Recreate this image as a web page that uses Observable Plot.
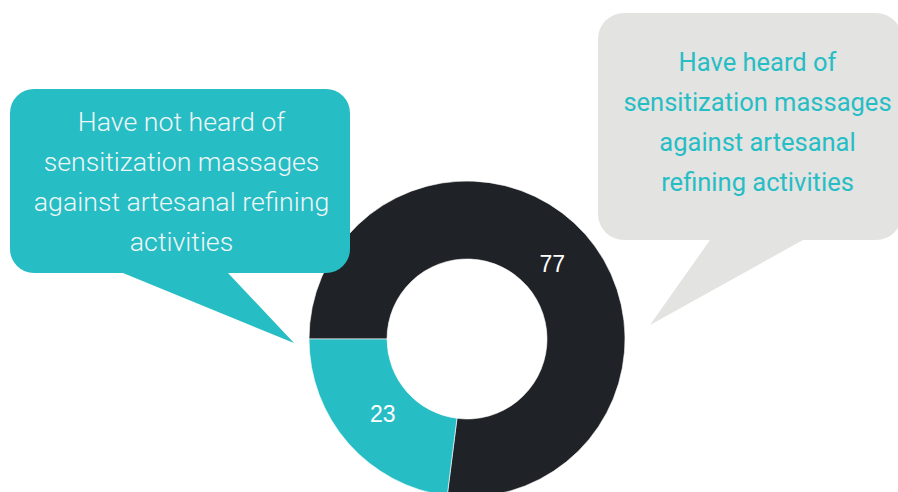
<!DOCTYPE html>
<html>
<head>
<meta charset="utf-8">
<script src="https://cdn.jsdelivr.net/npm/d3@7"></script>
<script src="https://cdn.jsdelivr.net/npm/@observablehq/plot@0.6"></script>
<style>
  html, body { margin: 0; padding: 0; background: #ffffff; }
  #chart { width: 898px; height: 492px; overflow: hidden; }
</style>
</head>
<body>
<div id="chart"></div>
<script>
// ---- data ----
const categories = [
  "Have heard of sensitization massages against artesanal refining activities",
  "Have not heard of sensitization massages against artesanal refining activities"
];
const values = [77, 23];
const sliceColors = ["#1f2226", "#27bdc5"];
const bubbleTexts = [
  "Have heard of\nsensitization massages\nagainst artesanal\nrefining activities",
  "Have not heard of\nsensitization massages\nagainst artesanal refining\nactivities"
];

// ---- layout ----
const W = 898, H = 492;
const cx = 467, cy = 339, rOuter = 158, rInner = 80, rLabel = 113;

const pie = d3.pie().sort(null).value(d => d.value)
  .startAngle(-Math.PI / 2).endAngle(3 * Math.PI / 2);
const table = categories.map((c, i) => ({category: c, value: values[i], color: sliceColors[i]}));
const arcs = pie(table);
const arcGen = d3.arc().innerRadius(rInner).outerRadius(rOuter);
const labelArc = d3.arc().innerRadius(rLabel).outerRadius(rLabel);
const labels = arcs.map(a => {
  const [dx, dy] = labelArc.centroid(a);
  return {x: cx + dx, y: cy + dy, text: String(a.data.value)};
});

// speech bubbles (layout only)
const bubbles = [
  {x0: 598, y0: 13, x1: 902, y1: 240, r: 26, tail: [[710, 240], [650, 325], [803, 240]], fill: "#e3e3e1",
   tx: 757, ty: 118, text: bubbleTexts[0], color: "#27bdc5"},
  {x0: 10, y0: 89, x1: 350, y1: 273, r: 24, tail: [[123, 273], [294, 343], [228, 273]], fill: "#27bdc5",
   tx: 181, ty: 178, text: bubbleTexts[1], color: "#eef6f6"}
];

function bubblePath(b, x, y) {
  const p = d3.path();
  const r = b.r;
  p.moveTo(x(b.x0 + r), y(b.y0));
  p.lineTo(x(b.x1 - r), y(b.y0));
  p.arcTo(x(b.x1), y(b.y0), x(b.x1), y(b.y0 + r), r);
  p.lineTo(x(b.x1), y(b.y1 - r));
  p.arcTo(x(b.x1), y(b.y1), x(b.x1 - r), y(b.y1), r);
  p.lineTo(x(b.tail[2][0]), y(b.tail[2][1]));
  p.lineTo(x(b.tail[1][0]), y(b.tail[1][1]));
  p.lineTo(x(b.tail[0][0]), y(b.tail[0][1]));
  p.lineTo(x(b.x0 + r), y(b.y1));
  p.arcTo(x(b.x0), y(b.y1), x(b.x0), y(b.y1 - r), r);
  p.lineTo(x(b.x0), y(b.y0 + r));
  p.arcTo(x(b.x0), y(b.y0), x(b.x0 + r), y(b.y0), r);
  p.closePath();
  return p.toString();
}

const donutMark = (index, scales) => {
  const g = d3.create("svg:g")
    .attr("transform", `translate(${scales.x(cx)},${scales.y(cy)})`);
  g.selectAll("path").data(arcs).join("path")
    .attr("d", arcGen)
    .attr("fill", d => d.data.color)
    .attr("stroke", "#ffffff")
    .attr("stroke-width", 0.6);
  return g.node();
};

const bubbleMark = (index, scales) => {
  const g = d3.create("svg:g");
  g.selectAll("path").data(bubbles).join("path")
    .attr("d", b => bubblePath(b, scales.x, scales.y))
    .attr("fill", b => b.fill);
  return g.node();
};

const chart = Plot.plot({
  width: W,
  height: H,
  margin: 0,
  x: {domain: [0, W], range: [0, W], axis: null},
  y: {domain: [0, H], range: [0, H], axis: null},
  style: {background: "#ffffff", fontFamily: "Roboto, sans-serif"},
  marks: [
    donutMark,
    bubbleMark,
    Plot.text(labels, {
      x: "x", y: "y", text: "text",
      fill: "#ffffff", fontSize: 23,
      fontFamily: "'Liberation Sans', Arial, sans-serif"
    }),
    Plot.text(bubbles.slice(0, 1), {
      x: "tx", y: "ty", text: "text",
      fill: d => d.color, fontSize: 25.5, lineHeight: 1.57,
      fontWeight: 400, textAnchor: "middle", lineAnchor: "middle",
      fontFamily: "Roboto, sans-serif"
    }),
    Plot.text(bubbles.slice(1), {
      x: "tx", y: "ty", text: "text",
      fill: d => d.color, fontSize: 26.7, lineHeight: 1.5,
      fontWeight: 300, textAnchor: "middle", lineAnchor: "middle",
      fontFamily: "Roboto, sans-serif"
    })
  ]
});

document.getElementById("chart").appendChild(chart);
</script>
</body>
</html>
